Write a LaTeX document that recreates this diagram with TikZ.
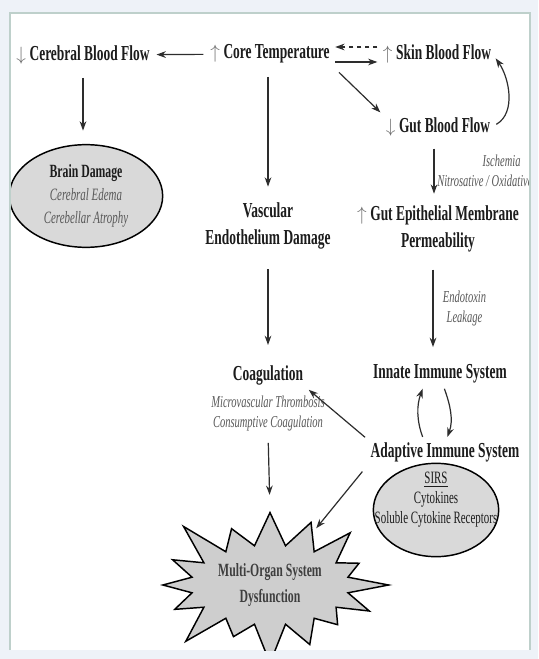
\documentclass[tikz,border=0pt]{standalone}
\usepackage{fontspec}
\newfontfamily\cond[FakeStretch=0.63]{Liberation Serif}
\usetikzlibrary{arrows.meta,shapes.geometric,shapes.symbols,calc}

\definecolor{bgblue}{RGB}{238,242,248}
\definecolor{panelline}{RGB}{190,208,203}
\definecolor{txtblack}{RGB}{28,28,28}
\definecolor{notegray}{RGB}{88,88,88}
\definecolor{arrgray}{RGB}{45,45,45}
\definecolor{markgray}{RGB}{110,110,110}
\definecolor{blobgray}{RGB}{217,217,217}

\newcommand{\upmark}{{\color{markgray}\fontsize{13.5}{13.5}\selectfont$\uparrow$}\,}
\newcommand{\downmark}{{\color{markgray}\fontsize{13.5}{13.5}\selectfont$\downarrow$}\,}

\tikzset{
  lbl/.style={font=\cond\bfseries\fontsize{16}{20}\selectfont, text=txtblack, align=center, inner sep=1pt},
  note/.style={font=\cond\itshape\fontsize{12.5}{15}\selectfont, text=notegray, align=center, inner sep=1pt},
  blob/.style={draw=black, line width=1.1pt, fill=blobgray},
  arr/.style={draw=arrgray, line width=0.9pt, -{Stealth[length=7pt,width=5pt]}, shorten <=4pt, shorten >=4pt},
}

\begin{document}
\begin{tikzpicture}[x=0.75pt,y=0.75pt,yscale=-1,xscale=1]
 \useasboundingbox (0,0) rectangle (538,659);
 \fill[bgblue] (0,0) rectangle (538,659);
 \fill[white] (10,13) rectangle (530,650);

 \begin{scope}
 \clip (10,13) rectangle (530,650);

 % Text Node
 \node[lbl] (cbf) at (83,55) {\downmark Cerebral Blood Flow};
 % Text Node
 \node[lbl] (core) at (270,54) {\upmark Core Temperature};
 % Text Node
 \node[lbl] (skin) at (437,54) {\upmark Skin Blood Flow};
 % Text Node
 \node[lbl] (gut) at (438,127) {\downmark Gut Blood Flow};
 %Shape: Ellipse
 \node[blob, ellipse, minimum width=115pt, minimum height=77pt, inner sep=0pt, align=center, font=\cond\itshape\fontsize{13}{17}\selectfont, text=notegray] (brain) at (86,196) {{\upshape\bfseries\fontsize{14}{17}\selectfont\color{txtblack}Brain Damage}\\Cerebral Edema\\Cerebellar Atrophy};
 % Text Node
 \node[lbl] (vasc) at (268,226) {Vascular\\Endothelium Damage};
 % Text Node
 \node[lbl] (perm) at (438,229) {\upmark Gut Epithelial Membrane\\Permeability};
 % Text Node
 \node[lbl] (coag) at (268,375) {Coagulation};
 % Text Node
 \node[note] (coagnote) at (268,413) {Microvascular Thrombosis\\Consumptive Coagulation};
 % Text Node
 \node[lbl] (innate) at (440,374) {Innate Immune System};
 % Text Node
 \node[lbl] (adapt) at (445,452) {Adaptive Immune System};
 %Shape: Ellipse
 \node[blob, ellipse, minimum width=94pt, minimum height=70pt] (sirs) at (436,510) {};
 % Text Node
 \node[font=\cond\fontsize{13}{15}\selectfont, text=txtblack, align=center, inner sep=0pt] (sirstext) at (436,500) {\underline{SIRS}\\Cytokines\\Soluble Cytokine Receptors};
 %Shape: Star
 \node[blob, starburst, starburst points=16, starburst point height=34pt, minimum width=160pt, minimum height=128pt, fill=blobgray!95!black, align=center, font=\cond\bfseries\fontsize{14}{19}\selectfont, text=txtblack!85] (mods) at (270,585) {Multi-Organ System\\Dysfunction};

 %Straight Lines
 \draw[arr] (core) -- (cbf);
 \draw[arr, shorten <=3pt, shorten >=3pt] ($(core.east)+(0,8)$) -- ($(skin.west)+(0,8)$);
 \draw[arr, dashed, shorten <=3pt, shorten >=3pt] ($(skin.west)+(0,-7)$) -- ($(core.east)+(0,-7)$);
 \draw[arr, shorten <=8pt] (core.south east) -- (gut.north west);
 \draw[arr] (gut.east) to[out=-30,in=55] (skin.east);
 \draw[arr, shorten <=9pt, shorten >=10pt] (cbf.south) -- (cbf.south |- brain.north);
 \draw[arr, shorten <=9pt, shorten >=11pt] (vasc.north |- core.south) -- (vasc.north);
 \draw[arr, shorten <=8pt, shorten >=8pt] ($(gut.south)+(-4,0)$) -- ($(perm.north)+(-4,0)$)
   node[note, anchor=west, align=right, pos=0.5, xshift=1pt] {Ischemia\hspace*{9pt}\\Nitrosative / Oxidative};
 \draw[arr, shorten <=12pt, shorten >=12pt] ($(perm.south)+(-5,0)$) -- ($(innate.north)+(-7,0)$)
   node[note, anchor=west, pos=0.5, xshift=6pt] {Endotoxin\\Leakage};
 \draw[arr, shorten <=14pt, shorten >=14pt] (vasc.south) -- (coag.north);
 \draw[arr, shorten <=3pt, shorten >=3pt] ($(adapt.north)+(-21,0)$) to[out=-110,in=110] ($(innate.south)+(-16,0)$);
 \draw[arr, shorten <=3pt, shorten >=3pt] ($(innate.south)+(3,0)$) to[out=70,in=-70] ($(adapt.north)+(1,0)$)
   node[pos=0.5, anchor=west, xshift=3pt, font=\cond\bfseries\itshape\fontsize{12}{14}\selectfont, text=txtblack] {TLR4};
 \draw[arr] (adapt.north west) -- (coag.south east);
 \draw[arr, shorten <=8pt, shorten >=12pt] (coagnote.south) -- (mods.north);
 \draw[arr, shorten <=8pt, shorten >=4pt] (adapt.south west) -- (mods);
 \end{scope}

 \draw[panelline, line width=0.8pt] (10,650) -- (10,13) -- (530,13) -- (530,650);
\end{tikzpicture}
\end{document}
